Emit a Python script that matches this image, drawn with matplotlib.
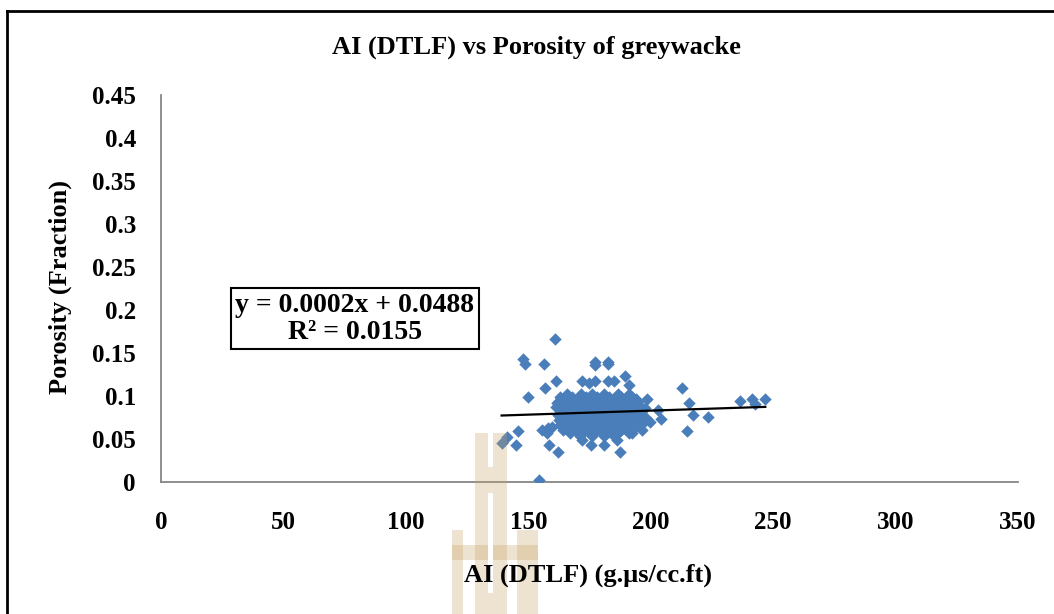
import numpy as np
import matplotlib
matplotlib.use('Agg')
import matplotlib.pyplot as plt
from matplotlib.patches import Rectangle
from matplotlib.lines import Line2D

plt.rcParams['font.family'] = ['Liberation Serif', 'DejaVu Serif']
plt.rcParams['font.weight'] = 'bold'

# --- data: AI (DTLF) vs porosity ---
# scattered points around the main cloud
outer_ai = [160.9, 147.9, 148.8, 156.5, 177.2, 177.2, 182.4, 182.6, 161.3, 171.9,
            174.9, 177.2, 182.4, 185.1, 189.7, 156.9, 150.0, 212.6, 215.5, 236.4,
            241.5, 242.4, 246.8, 217.4, 223.2, 214.7, 145.9, 141.2, 139.1, 145.0,
            158.6, 162.2, 154.3, 171.9, 175.5, 180.9, 187.4, 186.1, 157.5, 158.0,
            155.4, 161.6, 191.2, 193.5, 198.6, 203.1, 204.4, 197.6, 196.3, 199.7,
            192.2, 159.5]
outer_por = [0.166, 0.1426, 0.137, 0.137, 0.140, 0.136, 0.140, 0.137, 0.118, 0.118,
             0.1155, 0.118, 0.118, 0.118, 0.1236, 0.1097, 0.0988, 0.1097, 0.0915, 0.0946,
             0.0969, 0.0907, 0.0969, 0.0775, 0.0756, 0.0593, 0.0593, 0.0527, 0.0457, 0.0427,
             0.0427, 0.0349, 0.002, 0.0488, 0.0427, 0.0427, 0.0349, 0.0488, 0.0566, 0.0628,
             0.060, 0.0915, 0.113, 0.094, 0.096, 0.084, 0.073, 0.0857, 0.060, 0.070,
             0.0566, 0.064]

# dense core of the cloud, row by row
core_rows = {
    0.102: [166, 171.5, 176, 181, 186.5, 191],
    0.099: [163, 168, 173.5, 178, 183, 188, 192.5],
    0.096: [165, 170.5, 175, 180, 185, 190, 194],
    0.093: [162, 167, 172, 177.5, 182, 187, 191, 195],
    0.090: [164, 169, 174, 179, 184.5, 189, 193],
    0.087: [161.5, 166, 171, 176, 181, 186, 190, 195.5],
    0.084: [163, 168, 173, 178.5, 183, 188, 192, 197],
    0.081: [165, 170, 175, 180, 185, 189.5, 194],
    0.078: [162, 167, 172, 177, 182, 187, 191, 196],
    0.075: [164, 169, 174, 179, 184, 188.5, 193, 198],
    0.072: [162.5, 166, 171, 176, 181, 186, 190, 195],
    0.069: [164, 168, 173, 178, 183, 188, 192, 197],
    0.066: [163, 167, 172, 177, 182, 187, 191, 194.5],
    0.063: [165, 170, 175, 180, 185, 189, 193],
    0.060: [164, 169, 174, 179, 184, 188, 192],
    0.057: [167, 172, 177, 182, 186.5, 191],
    0.054: [171, 176, 181, 185],
}

core_ai = [x for y, xs in core_rows.items() for x in xs]
core_por = [y for y, xs in core_rows.items() for x in xs]
ai = np.array(outer_ai + core_ai)
por = np.array(outer_por + core_por)

x_ticks = [0, 50, 100, 150, 200, 250, 300, 350]
y_ticks = [0, 0.05, 0.1, 0.15, 0.2, 0.25, 0.3, 0.35, 0.4, 0.45]
y_tick_labels = ['0', '0.05', '0.1', '0.15', '0.2', '0.25', '0.3', '0.35', '0.4', '0.45']
equation = 'y = 0.0002x + 0.0488\nR² = 0.0155'

W, H = 1054, 614
fig = plt.figure(figsize=(W / 100, H / 100), dpi=100)
ax = fig.add_axes([161 / W, 1 - 482 / H, (1018 - 161) / W, (482 - 95) / H])

ax.scatter(ai, por, marker='D', s=40, color='#4A7EBB', linewidths=0, zorder=3)

# linear trendline over the data range
slope, intercept = np.polyfit(ai, por, 1)
xs = np.array([ai.min(), ai.max()])
ax.plot(xs, slope * xs + intercept, color='black', lw=1.6, zorder=4)

ax.set_xlim(0, 350)
ax.set_ylim(0, 0.45)
ax.set_xticks(x_ticks)
ax.set_yticks(y_ticks)
ax.set_yticklabels(y_tick_labels)
ax.tick_params(length=0, labelsize=18)
ax.tick_params(axis='x', pad=21)
ax.tick_params(axis='y', pad=18)
for s in ['top', 'right']:
    ax.spines[s].set_visible(False)
for s in ['left', 'bottom']:
    ax.spines[s].set_color('#868686')
    ax.spines[s].set_linewidth(1.3)

ax.text(79.2, 0.19, equation, ha='center', va='center', fontsize=20,
        fontweight='bold', linespacing=1.1,
        bbox=dict(boxstyle='square,pad=0.15', fc='white', ec='black', lw=1.5), zorder=5)

fig.text(0.5085, 1 - 47 / H, 'AI (DTLF) vs Porosity of greywacke', ha='center',
         va='center', fontsize=19, fontweight='bold', zorder=5)
fig.text(588 / W, 1 - 575 / H, 'AI (DTLF) (g.µs/cc.ft)', ha='center', va='center',
         fontsize=19, fontweight='bold', zorder=5)
fig.text(60 / W, 1 - 287 / H, 'Porosity (Fraction)', ha='center', va='center',
         rotation=90, fontsize=19, fontweight='bold', zorder=5)

# faint watermark logo behind the bottom of the chart
tan = '#C9A466'
for (x0, y0, x1, y1) in [(475, 433, 507, 614), (452, 530, 463, 614),
                         (517, 530, 538, 614), (452, 545, 538, 560)]:
    fig.add_artist(Rectangle((x0 / W, 1 - y1 / H), (x1 - x0) / W, (y1 - y0) / H,
                             transform=fig.transFigure, fc=tan, ec='none',
                             alpha=0.3, zorder=1))
for (x0, y0, x1, y1) in [(488, 433, 493, 467), (488, 493, 493, 593)]:
    fig.add_artist(Rectangle((x0 / W, 1 - y1 / H), (x1 - x0) / W, (y1 - y0) / H,
                             transform=fig.transFigure, fc='white', ec='none',
                             zorder=2))

# chart frame (only top and left edges are inside the picture)
fig.add_artist(Line2D([7 / W, 1], [1 - 10.5 / H, 1 - 10.5 / H], color='black', lw=2,
                      transform=fig.transFigure))
fig.add_artist(Line2D([7 / W, 7 / W], [0, 1 - 10.5 / H], color='black', lw=2,
                      transform=fig.transFigure))

fig.savefig('out.png', dpi=100)
